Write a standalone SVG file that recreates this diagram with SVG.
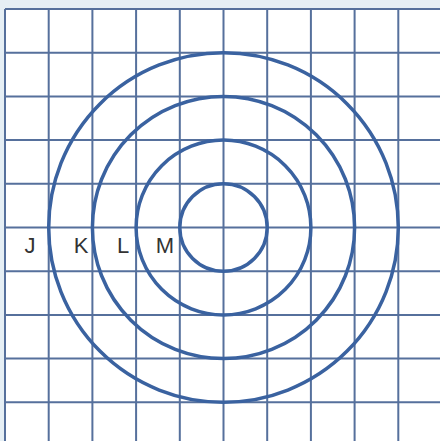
<svg xmlns="http://www.w3.org/2000/svg" width="440" height="441" viewBox="0 0 440 441">
<style>
.g{stroke:#56709c;stroke-width:2;fill:none}
.c{stroke:#3a62a0;stroke-width:3.5;fill:none}
.t{font-family:"Liberation Sans",Arial,sans-serif;font-size:22px;fill:#333;text-anchor:middle}
</style>
<rect x="0" y="0" width="440" height="441" fill="#e6eff5"/>
<rect x="5" y="9" width="435" height="432" fill="#ffffff"/>
<g id="grid">
<path class="g" d="M5,9V441M48.7,9V441M92.4,9V441M136.1,9V441M179.8,9V441M223.5,9V441M267.2,9V441M310.9,9V441M354.6,9V441M398.3,9V441"/>
<path class="g" d="M5,9H440M5,52.7H440M5,96.4H440M5,140.1H440M5,183.8H440M5,227.5H440M5,271.2H440M5,314.9H440M5,358.6H440M5,402.3H440"/>
</g>
<g id="circles">
<circle id="M" class="c" cx="223.5" cy="227.5" r="43.7"/>
<circle id="L" class="c" cx="223.5" cy="227.5" r="87.4"/>
<circle id="K" class="c" cx="223.5" cy="227.5" r="131.1"/>
<circle id="J" class="c" cx="223.5" cy="227.5" r="174.8"/>
</g>
<g id="labels">
<text class="t" x="30" y="253">J</text>
<text class="t" x="81" y="253">K</text>
<text class="t" x="123" y="253">L</text>
<text class="t" x="165" y="253">M</text>
</g>
</svg>
